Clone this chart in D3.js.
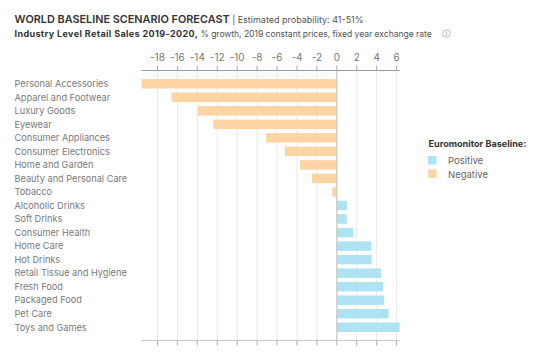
<!DOCTYPE html>
<html><head><meta charset="utf-8">
<script src="https://cdnjs.cloudflare.com/ajax/libs/d3/7.8.5/d3.min.js"></script>
<style>html,body{margin:0;padding:0;background:#fff}svg{display:block}text{font-family:Inter,sans-serif}</style>
</head><body><svg id="c" width="554" height="354"></svg>
<script>
const categories=["Personal Accessories","Apparel and Footwear","Luxury Goods","Eyewear","Consumer Appliances","Consumer Electronics","Home and Garden","Beauty and Personal Care","Tobacco","Alcoholic Drinks","Soft Drinks","Consumer Health","Home Care","Hot Drinks","Retail Tissue and Hygiene","Fresh Food","Packaged Food","Pet Care","Toys and Games"];
const values=[-19.6,-16.6,-13.95,-12.4,-7.1,-5.2,-3.7,-2.5,-0.45,1.0,1.0,1.65,3.45,3.5,4.45,4.65,4.75,5.2,6.3];
const tickValues=[-18,-16,-14,-12,-10,-8,-6,-4,-2,0,2,4,6];
const legendLabels=["Positive","Negative"];
const legendColors=["#aee3f3","#fdd5a5"];
const svg=d3.select("#c");
const x=d3.scaleLinear().domain([-19.6,6.3]).range([141.5,399.6]);
const y=d3.scaleBand().domain(categories).range([77,334]).paddingInner(0.3).paddingOuter(0.15);
const g=svg.append("g");
g.selectAll("line.grid").data(tickValues).join("line").attr("x1",d=>x(d)).attr("x2",d=>x(d)).attr("y1",70.5).attr("y2",340.5).attr("stroke","#e8e8e8").attr("stroke-width",1);
g.selectAll("rect.bar").data(values).join("rect").attr("class","bar")
 .attr("x",d=>Math.min(x(d),x(0))).attr("width",d=>Math.abs(x(d)-x(0)))
 .attr("y",(d,i)=>y(categories[i])).attr("height",y.bandwidth())
 .attr("fill",d=>d<0?legendColors[1]:legendColors[0]);
g.append("line").attr("x1",x(0)).attr("x2",x(0)).attr("y1",70.5).attr("y2",340.5).attr("stroke","#c4c4c4");
function axis(yp,top){
 const a=svg.append("g");
 a.append("line").attr("x1",141.5).attr("x2",399.6).attr("y1",yp).attr("y2",yp).attr("stroke",top?"#999":"#c8c8c8");
 a.selectAll("line.t").data(tickValues).join("line").attr("x1",d=>x(d)).attr("x2",d=>x(d)).attr("y1",yp).attr("y2",top?yp-5:yp+5).attr("stroke","#aaa");
}
axis(70.5,true);axis(340.5,false);
svg.append("g").selectAll("text").data(tickValues).join("text").attr("x",d=>x(d)).attr("y",61).attr("text-anchor","middle").attr("font-size",10).attr("fill","#777").text(d=>d);
svg.append("g").selectAll("text").data(categories).join("text").attr("x",14.5).attr("y",d=>y(d)+y.bandwidth()/2+3.3).attr("font-size",9.2).attr("fill","#7a7a7a").text(d=>d);
const t=svg.append("text").attr("x",14.5).attr("y",22.5).attr("fill","#333");
t.append("tspan").attr("font-size",10.85).attr("font-weight",600).text("WORLD BASELINE SCENARIO FORECAST");
t.append("tspan").attr("font-size",9).attr("fill","#555").text(" | Estimated probability: 41-51%");
const s=svg.append("text").attr("x",14.5).attr("y",37).attr("fill","#333");
s.append("tspan").attr("font-size",9).attr("letter-spacing",0.38).attr("font-weight",700).text("Industry Level Retail Sales 2019-2020,");
s.append("tspan").attr("font-size",8.6).attr("letter-spacing",-0.05).attr("fill","#555").text(" % growth, 2019 constant prices, fixed year exchange rate");
const ic=svg.append("g").attr("transform","translate(446.5,33.5)");
ic.append("circle").attr("r",3.8).attr("fill","none").attr("stroke","#aaa").attr("stroke-width",.8);
ic.append("text").attr("text-anchor","middle").attr("y",2.4).attr("font-size",6).attr("fill","#888").text("i");
svg.append("text").attr("x",428.5).attr("y",146.5).attr("font-size",9.1).attr("font-weight",700).attr("fill","#333").text("Euromonitor Baseline:");
const lg=svg.append("g").selectAll("g").data(legendLabels).join("g").attr("transform",(d,i)=>`translate(428,${156+i*13.5})`);
lg.append("rect").attr("width",8.5).attr("height",8.5).attr("fill",(d,i)=>legendColors[i]);
lg.append("text").attr("x",20).attr("y",8).attr("font-size",9.5).attr("fill","#666").text(d=>d);
</script></body></html>
